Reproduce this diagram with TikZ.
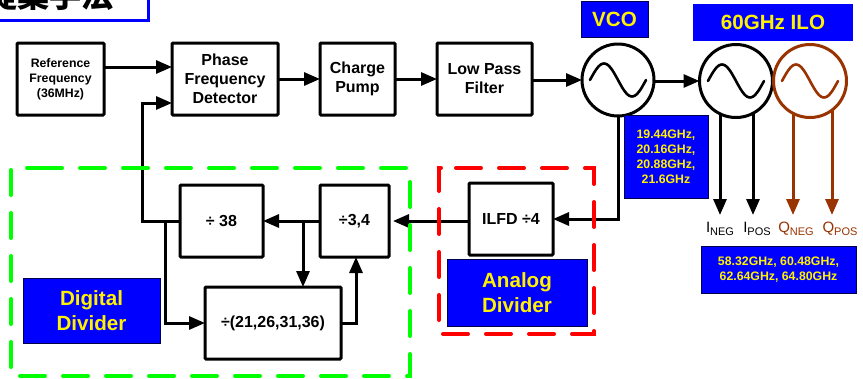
\documentclass[tikz,border=0pt]{standalone}
\usepackage{fontspec}
\setmainfont{Liberation Sans}
\newfontfamily\cjk{Noto Sans CJK JP}
\usetikzlibrary{arrows.meta}
\definecolor{ilobrown}{RGB}{153,51,0}
\tikzset{
  x=1pt,y=-1pt,
  blk/.style={draw=black,line width=3pt,rounded corners=1pt,fill=white,inner sep=0pt,outer sep=0pt,align=center},
  t16/.style={font=\fontsize{16}{19}\selectfont\bfseries},
  lab/.style={fill=blue,draw=black!70!blue,line width=0.7pt,text=yellow,inner sep=0pt,outer sep=0pt,align=center},
  lab20/.style={lab,font=\fontsize{20.6}{25}\selectfont\bfseries},
  lab12/.style={lab,font=\fontsize{12.3}{15}\selectfont\bfseries},
  osc/.style={circle,draw=black,line width=3pt,minimum size=72pt,inner sep=0pt,outer sep=0pt},
  conn/.style={draw=black,line width=3pt,-{Triangle[length=16pt,width=13pt]},line join=miter},
  sine/.style={line width=2.6pt,line cap=round},
  dashframe/.style={line width=4pt,line cap=round,dash pattern=on 25pt off 18pt},
  outname/.style={inner sep=0pt,outer sep=0pt,font=\fontsize{15}{15}\selectfont},
}
\newcommand{\subt}[1]{{\fontsize{11}{11}\selectfont\raisebox{-2.5pt}{#1}}}
\newcommand{\sinewave}{plot[domain=-28:28,samples=41,smooth] (\x,{16.5*sin(\x*180/28)})}
\begin{document}
\begin{tikzpicture}
\useasboundingbox (0,0) rectangle (863,378);
\fill[white] (0,0) rectangle (863,378);
% title, cut off by the top of the picture
\begin{scope}
\clip (0,0) rectangle (863,378);
\node[draw=blue,line width=3pt,fill=white,minimum width=170pt,minimum height=50pt,inner sep=0pt,outer sep=0pt] (title) at (63,-5) {};
\node[anchor=base east,inner sep=0pt,font=\fontsize{32}{32}\selectfont\bfseries\cjk] (titletext) at (114,7.5) {提案手法};
\end{scope}
% header labels
\node[lab20,minimum width=67pt,minimum height=36pt] (vcolab) at (614.5,19) {VCO};
\node[lab20,draw=none,minimum width=160pt,minimum height=37pt,fill=blue] (ilolab) at (773,22.5) {60GHz ILO};
% top row blocks
\node[blk,font=\fontsize{12.3}{15}\selectfont\bfseries,minimum width=87pt,minimum height=72pt] (ref) at (60.5,79) {Reference\\Frequency\\(36MHz)};
\node[blk,t16,minimum width=106pt,minimum height=72pt] (pfd) at (225,79) {Phase\\Frequency\\Detector};
\node[blk,t16,minimum width=75pt,minimum height=72pt] (cp) at (357.5,79) {Charge\\Pump};
\node[blk,t16,minimum width=95pt,minimum height=72pt] (lpf) at (484.5,79) {Low Pass\\Filter};
% oscillators
\node[osc] (vco) at (618,80) {};
\node[osc,minimum size=73pt] (iloa) at (736,81) {};
\node[osc,draw=ilobrown,minimum size=73pt] (ilob) at (810,81) {};
\draw[sine,shift={(vco.center)}] \sinewave;
\draw[sine,shift={(iloa.center)}] \sinewave;
\draw[sine,ilobrown,shift={(ilob.center)}] \sinewave;
% lower blocks
\node[blk,t16,minimum width=84pt,minimum height=72pt] (ilfd) at (511,219) {ILFD ÷4};
\node[blk,t16,minimum width=69pt,minimum height=72pt] (d34) at (354.5,221) {÷3,4};
\node[blk,t16,minimum width=83pt,minimum height=72pt] (d38) at (221.5,221) {÷ 38};
\node[blk,t16,minimum width=136pt,minimum height=72pt] (dwide) at (273,323) {÷(21,26,31,36)};
% connectors on the top row
\draw[conn] ([yshift=12pt]ref.east) -- ([yshift=12pt]pfd.west);
\draw[conn] (pfd.east) -- (cp.west);
\draw[conn] (cp.east) -- (lpf.west);
\draw[conn] (lpf.east |- vco.west) -- (vco.west);
\draw[conn] (vco.east |- iloa.west) -- (iloa.west);
% outputs
\coordinate (inegend) at (720,215);
\coordinate (iposend) at (753,215);
\coordinate (qnegend) at (793,215);
\coordinate (qposend) at (832,215);
\draw[conn] ([shift={(-16pt,-33pt)}]iloa.center) -- (inegend);
\draw[conn] ([shift={(17pt,-33pt)}]iloa.center) -- (iposend);
\draw[conn,draw=ilobrown,fill=ilobrown,-{Triangle[length=16pt,width=13pt,fill=ilobrown]}] ([shift={(-17pt,-33pt)}]ilob.center) -- (qnegend);
\draw[conn,draw=ilobrown,fill=ilobrown,-{Triangle[length=16pt,width=13pt,fill=ilobrown]}] ([shift={(22pt,-30pt)}]ilob.center) -- (qposend);
% feedback chain
\coordinate (vcocorner) at (618,219);
\coordinate (fbcorner) at (142,221);
\coordinate (fbtop) at (142,103);
\coordinate (fbbranch) at (165,221);
\coordinate (fbfoot) at (165,323);
\coordinate (midbranch) at (303,221);
\coordinate (upcorner) at (356,323);
\coordinate (d34in) at (393,221);
\draw[conn] (vco.south) -- (vcocorner) -- (ilfd.east);
\draw[conn] (ilfd.west |- d34in) -- (d34in);
\draw[conn] (d34.west) -- (d38.east);
\draw[conn] (d38.west) -- (fbcorner) -- (fbtop) -- (pfd.west |- fbtop);
\draw[conn] (fbbranch) -- (fbfoot) -- (dwide.west);
\draw[conn] (midbranch) -- (midbranch |- dwide.north);
\draw[conn] (dwide.east) -- (upcorner) -- (upcorner |- d34.south);
% dashed frames
\draw[dashframe,draw=green] (37,168) -- (410,168) -- (410,376) -- (11,376) -- (11,168) -- cycle;
\draw[dashframe,draw=red] (456,168) -- (594,168) -- (594,334) -- (439,334) -- (439,168) -- cycle;
% blue text boxes
\node[lab20,minimum width=137pt,minimum height=65pt] (diglab) at (91.5,310.5) {Digital\\Divider};
\node[lab20,minimum width=140pt,minimum height=67pt] (analab) at (517,293) {Analog\\Divider};
\node[lab12,minimum width=84pt,minimum height=83pt] (f1) at (666,156.5) {19.44GHz,\\20.16GHz,\\20.88GHz,\\21.6GHz};
\node[lab12,minimum width=155pt,minimum height=47pt] (f2) at (778.5,269.5) {58.32GHz, 60.48GHz,\\62.64GHz, 64.80GHz};
% output names
\node[outname] (ineg) at (720,229) {I\subt{NEG}};
\node[outname] (ipos) at (757,229) {I\subt{POS}};
\node[outname,text=ilobrown] (qneg) at (796,229) {Q\subt{NEG}};
\node[outname,text=ilobrown] (qpos) at (840,229) {Q\subt{POS}};
\end{tikzpicture}
\end{document}
